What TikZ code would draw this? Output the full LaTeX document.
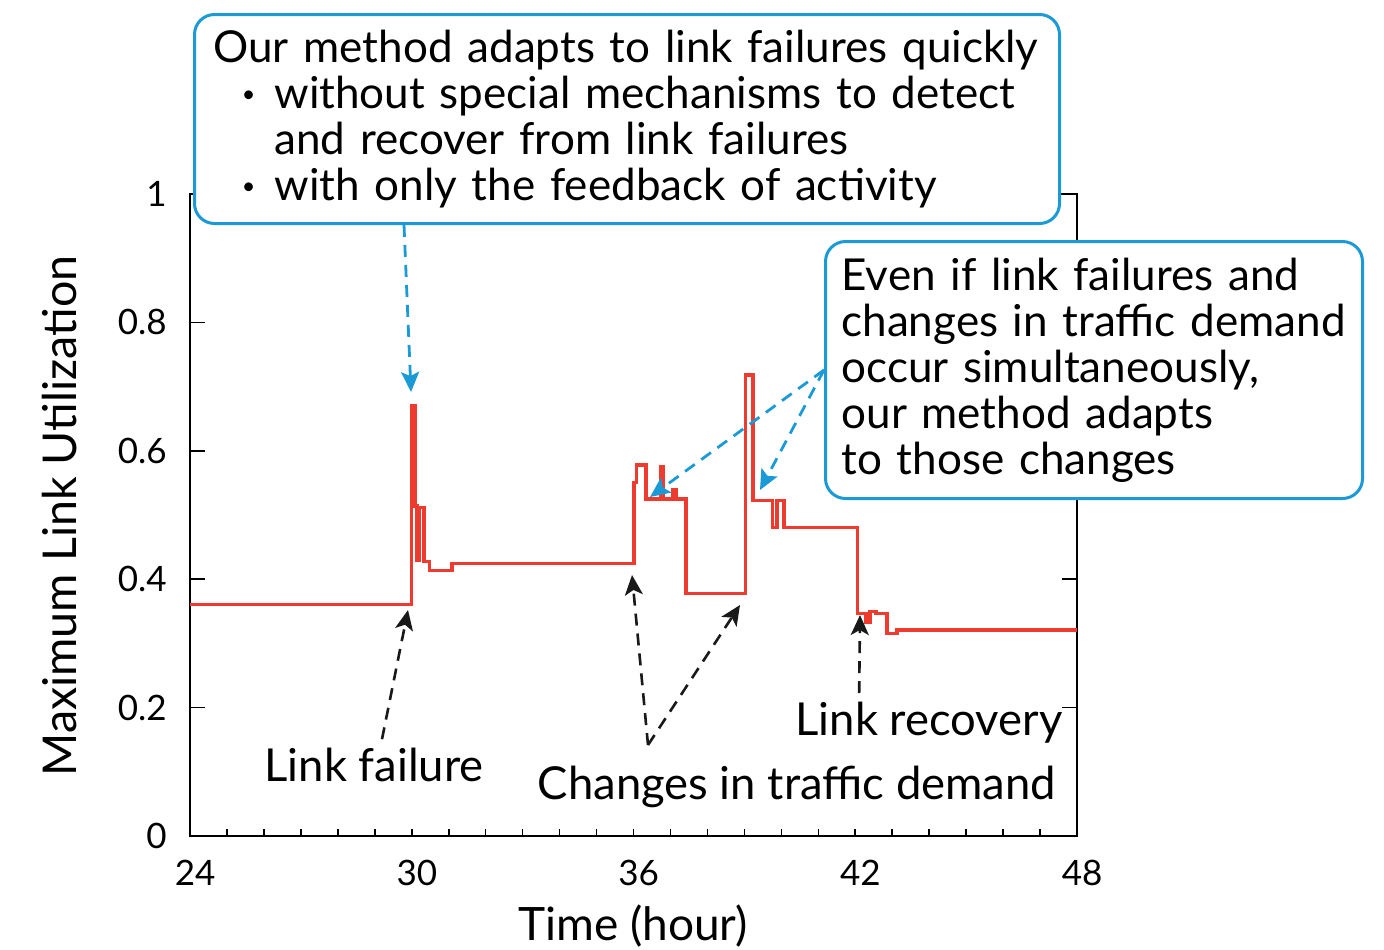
\documentclass[tikz,border=0pt]{standalone}
\usepackage{fontspec}
\setmainfont{Lato}
\usepackage{tikz}
\usetikzlibrary{arrows.meta,positioning,calc}
\definecolor{curvered}{HTML}{EE3B30}
\definecolor{noteblue}{HTML}{1B9AD6}
\newcommand{\notedot}{\hspace*{14pt}\makebox[16.5pt][l]{\raisebox{-1.8pt}{\fontsize{29}{23}\selectfont·}}}
\tikzset{
  notebox/.style={draw=noteblue,line width=1.5pt,fill=white,rounded corners=10pt,
    align=left,anchor=north west,font=\fontsize{22}{23}\selectfont},
  notearrow/.style={draw=noteblue,line width=1.4pt,dash pattern=on 6pt off 4pt,
    -{Stealth[length=10pt,width=9pt,inset=2pt]}},
  eventarrow/.style={draw=black!90,line width=1.3pt,dash pattern=on 6pt off 4pt,
    -{Stealth[length=10pt,width=9pt,inset=2.5pt]}},
  eventlabel/.style={font=\fontsize{22.7}{25}\selectfont,inner sep=0pt,anchor=base},
  ticklabel/.style={font=\fontsize{17.5}{20}\selectfont,inner sep=0pt}
}
\begin{document}
\begin{tikzpicture}[x=0.5pt,y=-0.5pt]
  \useasboundingbox (0,0) rectangle (1384,949);
  \begin{scope}[shift={(190,836)},x=18.48pt,y=321pt]
    \draw[line width=1pt] (0,0) rectangle (24,1);
    \foreach \t in {1,...,23}
      \draw[line width=0.8pt] (\t,0) -- ++(0,0.011);
    \foreach \v in {0.2,0.4,0.6,0.8}{
      \draw[line width=0.8pt] (0,\v) -- ++(0.4,0);
      \draw[line width=0.8pt] (24,\v) -- ++(-0.4,0);
    }
    \foreach \t/\lab in {0/24,6/30,12/36,18/42,24/48}
      \node[ticklabel] at (\t+0.14,-0.058) {\lab};
    \foreach \v/\lab in {0/0,0.2/0.2,0.4/0.4,0.6/0.6,0.8/0.8,1/1}
      \node[ticklabel,anchor=east] at (-0.62,\v) {\lab};
    \draw[curvered,line width=1.6pt] (0,0.36) -| (6.0,0.67) -| (6.09,0.514)
      -| (6.14,0.43) -| (6.22,0.512) -| (6.33,0.427) -| (6.47,0.413)
      -| (7.09,0.425) -| (12.01,0.551) -| (12.09,0.578) -| (12.34,0.525)
      -| (12.74,0.575) -| (12.82,0.525) -| (13.07,0.54) -| (13.15,0.525)
      -| (13.42,0.378) -| (15.02,0.718) -| (15.23,0.522) -| (15.77,0.481)
      -| (15.88,0.523) -| (16.07,0.481) -| (18.07,0.347) -| (18.29,0.332)
      -| (18.40,0.35) -| (18.56,0.346) -| (18.86,0.316) -| (19.13,0.321)
      -- (24,0.321);
  \end{scope}

  \node[font=\fontsize{23}{25}\selectfont,anchor=base] (timelabel) at (633,940) {Time (hour)};
  \node[font=\fontsize{23.3}{25}\selectfont,rotate=90] (utillabel) at (60,516) {Maximum Link Utilization};

  \node[notebox,inner xsep=9.5pt,text width=413.5pt,minimum height=104.5pt] (ourbox) at (193,13)
    {Our method adapts to link failures quickly\\
     \notedot without special mechanisms to detect\\
     \hspace*{30.5pt}and recover from link failures\\
     \notedot with only the feedback of activity};
  \node[notebox,inner xsep=8pt,text width=252.5pt,minimum height=128.5pt] (evenbox) at (824,240)
    {Even if link failures and\\changes in traffic demand\\occur simultaneously,\\our method adapts\\to those changes};

  \node[eventlabel] (failurelabel) at (374,781) {Link failure};
  \node[eventlabel] (demandlabel) at (797,799) {Changes in traffic demand};
  \node[eventlabel] (recoverylabel) at (929,735) {Link recovery};

  \coordinate (failpeak) at (411,392);
  \coordinate (demandpeak) at (650,497);
  \coordinate (mixpeak) at (760,490);
  \coordinate (failstep) at (408,610);
  \coordinate (demandup) at (632,575);
  \coordinate (demanddown) at (740,605);
  \coordinate (recoverystep) at (860,615);
  \coordinate (demandfoot) at (648,745);

  \draw[notearrow] ($(ourbox.south west)+(211,0)$) -- (failpeak);
  \draw[notearrow] (evenbox.west) -- (demandpeak);
  \draw[notearrow] (evenbox.west) -- (mixpeak);
  \draw[eventarrow] ($(failurelabel.north)+(8,-8)$) -- (failstep);
  \draw[eventarrow] (demandfoot) -- (demandup);
  \draw[eventarrow] (demandfoot) -- (demanddown);
  \draw[eventarrow] ($(recoverylabel.north west)+(64,-8)$) -- (recoverystep);
\end{tikzpicture}
\end{document}
